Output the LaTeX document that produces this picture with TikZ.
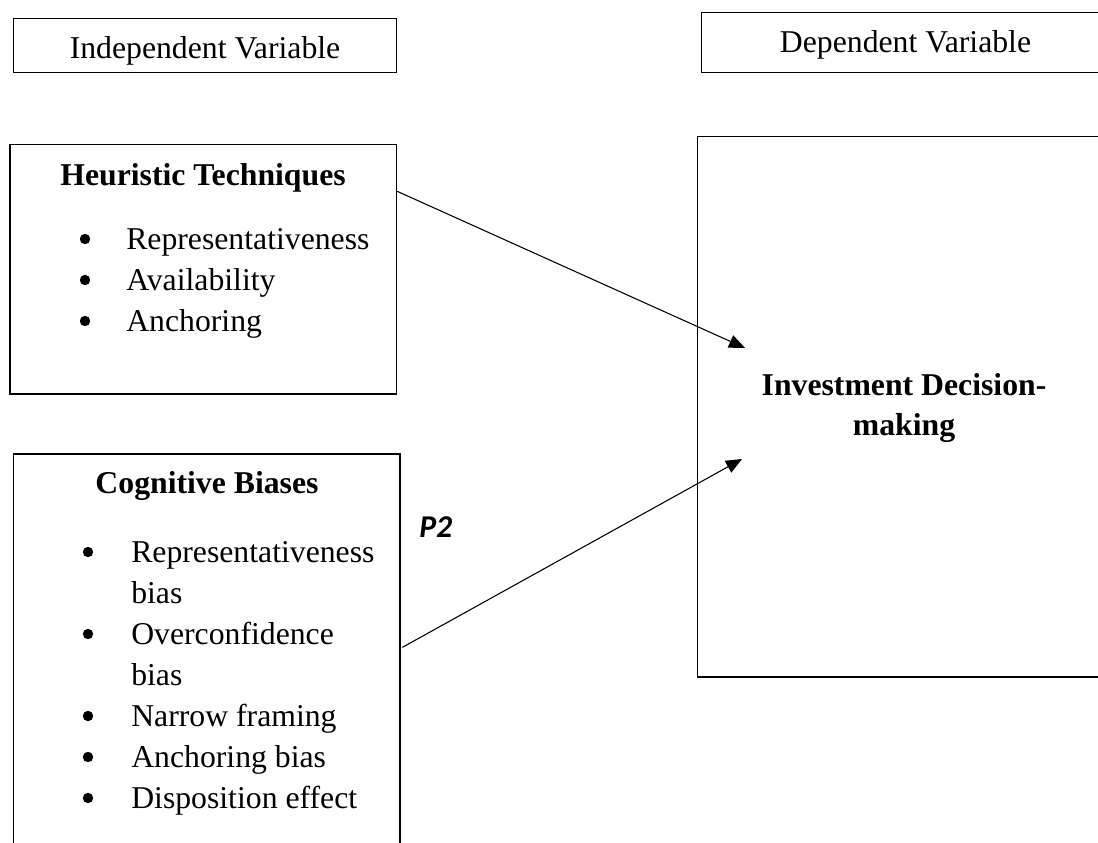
\documentclass[tikz,border=0pt]{standalone}
\usepackage{fontspec}
\setmainfont{Liberation Serif}
\newfontfamily\pfont{Carlito}
\usetikzlibrary{arrows.meta,fit,calc}
\begin{document}
\begin{tikzpicture}[x=0.75pt,y=-0.75pt,
  box/.style={draw, line width=1pt, inner sep=0pt, rectangle},
  txt/.style={anchor=base, inner sep=0pt, font=\fontsize{23.8pt}{30pt}\selectfont},
  hd/.style={txt, font=\fontsize{23.8pt}{30pt}\selectfont\bfseries},
  lst/.style={anchor=base west, inner sep=0pt, font=\fontsize{23.8pt}{30pt}\selectfont},
  bul/.style={circle, fill, inner sep=0pt, minimum size=7.8pt},
  arr/.style={line width=0.8pt, -{Triangle[length=12pt,width=10pt]}}]
\clip (0,0) rectangle (1098,842);
% boxes
\node[box, fit={(13.5,18.5) (396.5,72.5)}] (indep) {};
\node[box, fit={(701.7,12.7) (1110,72.7)}] (dep) {};
\node[box, fit={(10,144.5) (396.5,394)}] (heur) {};
\node[box, fit={(697.7,136.7) (1110,677)}] (inv) {};
\node[box, fit={(13.5,454) (400,870)}] (cog) {};
% headings
\node[txt] (indeptxt) at (205,59) {Independent Variable};
\node[txt] (deptxt) at (905.5,53) {Dependent Variable};
\node[hd] (heurtxt) at (203,185) {Heuristic Techniques};
\node[hd] (cogtxt) at (207,493) {Cognitive Biases};
\node[hd] (invtxta) at (904,395) {Investment Decision-};
\node[hd] (invtxtb) at (904,435) {making};
% heuristic list
\foreach \y/\t [count=\i] in {249/Representativeness, 290/Availability, 331/Anchoring}{
  \node[bul] (hb\i) at (85,\y-10) {};
  \node[lst] (hl\i) at (126,\y) {\t};
}
% cognitive list
\foreach \y/\t [count=\i] in {562/Representativeness, 644/Overconfidence, 726/Narrow framing, 767/Anchoring bias, 808/Disposition effect}{
  \node[bul] (cb\i) at (88,\y-10) {};
  \node[lst] (cl\i) at (131,\y) {\t};
}
\node[lst] (cl1b) at (131,603) {bias};
\node[lst] (cl2b) at (131,685) {bias};
% P2 label
\node[lst, font=\fontsize{23.8pt}{30pt}\selectfont\pfont\bfseries\itshape] (p2) at (419,537) {P2};
% arrows
\coordinate (t1) at (745,348);
\coordinate (t2) at (742,459);
\draw[arr] ([yshift=-35.6pt]heur.north east) -- (t1);
\draw[arr] ([yshift=-145.5pt,xshift=1.3pt]cog.north east) -- (t2);
\end{tikzpicture}
\end{document}
